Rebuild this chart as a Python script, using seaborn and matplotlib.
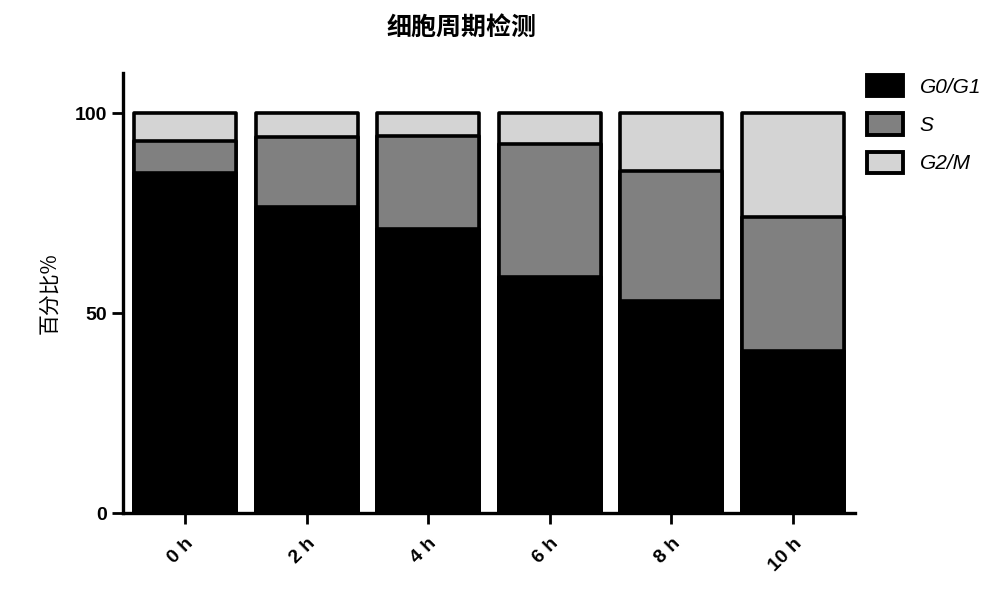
import numpy as np
import pandas as pd
import seaborn as sns
import matplotlib.pyplot as plt
from matplotlib.patches import Patch

# Data (percent per phase)
times = ['0 h', '2 h', '4 h', '6 h', '8 h', '10 h']
g0g1 = [85.0, 76.5, 71.0, 59.0, 53.0, 40.5]
s_phase = [8.0, 17.5, 23.2, 33.3, 32.5, 33.5]
g2m = [7.0, 6.0, 5.8, 7.7, 14.5, 26.0]
phases = ['G0/G1', 'S', 'G2/M']
colors = ['#000000', '#808080', '#d4d4d4']

sns.set_theme(style='ticks')
plt.rcParams['font.family'] = ['Liberation Sans', 'Noto Sans CJK SC', 'DejaVu Sans']
plt.rcParams['text.color'] = 'black'
plt.rcParams['axes.labelcolor'] = 'black'

df = pd.DataFrame({'time': times, 'G0/G1': g0g1, 'S': s_phase, 'G2/M': g2m})
df['top_s'] = df['G0/G1'] + df['S']
df['top_all'] = df['top_s'] + df['G2/M']

fig = plt.figure(figsize=(10, 5.9), dpi=100)
ax = fig.add_axes([0.123, 0.1305, 0.732, 0.7455])

# stacked bars drawn as overlapping cumulative bars, tallest first
for col, c in zip(['top_all', 'top_s', 'G0/G1'], colors[::-1]):
    sns.barplot(data=df, x='time', y=col, color=c, width=0.84,
                edgecolor='black', linewidth=2.6, saturation=1, ax=ax)
for p in ax.patches:
    p.set_joinstyle('round')

ax.set_xlim(-0.51, 5.51)
ax.set_ylim(0, 110)
ax.set_yticks([0, 50, 100])
ax.set_xlabel('')
ax.set_ylabel('百分比%', fontsize=15, family=['Noto Sans CJK SC', 'DejaVu Sans'], labelpad=10)
sns.despine(ax=ax)
for sp in ['left', 'bottom']:
    ax.spines[sp].set_linewidth(2.4)
    ax.spines[sp].set_color('black')
ax.tick_params(axis='both', width=2, length=8, labelsize=14, colors='black')
ax.tick_params(axis='x', pad=8)
for lab in ax.get_yticklabels():
    lab.set_fontweight('bold')
for lab in ax.get_xticklabels():
    lab.set_fontweight('bold')
    lab.set_rotation(45)
    lab.set_ha('right')
    lab.set_rotation_mode('anchor')

handles = [Patch(facecolor=c, edgecolor='black', linewidth=2.8, joinstyle='round') for c in colors]
leg = fig.legend(handles, phases, loc='upper left', bbox_to_anchor=(0.848, 0.905),
                 frameon=False, handlelength=1.75, handleheight=1.2, labelspacing=0.8,
                 handletextpad=0.8, prop={'style': 'italic', 'size': 15})

fig.text(0.462, 0.952, '细胞周期检测', ha='center', va='center', fontsize=18, fontweight='bold',
         color='black', family=['Noto Sans CJK SC', 'DejaVu Sans'])

fig.savefig('out.png', dpi=100)
